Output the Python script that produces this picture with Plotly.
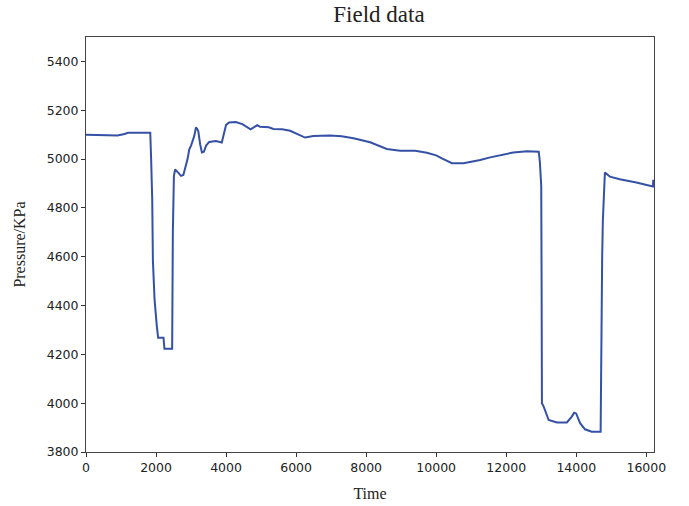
import plotly.graph_objects as go

# Field pressure record: time vs pressure (KPa)
time = [
    0, 300, 600, 900, 1100, 1200, 1500, 1835,
    1860, 1891, 1910, 1958, 2023, 2060, 2213, 2240, 2270, 2460,
    2480, 2510, 2545, 2600, 2715, 2780, 2857, 2900, 2950, 3000, 3092,
    3140, 3170, 3206, 3260, 3310, 3367, 3430, 3518, 3708, 3878, 3910,
    3944, 4000, 4085, 4275, 4464, 4600, 4700, 4790, 4890, 4971, 5220,
    5352, 5600, 5829, 6000, 6257, 6495, 6971, 7300, 7638, 8114, 8590,
    8971, 9400, 9734, 10000, 10163, 10449, 10780, 11257, 11543, 11829,
    12200, 12597, 12928, 12960, 12975, 12985, 12990, 13000, 13010, 13020,
    13070, 13212, 13448, 13731, 13873, 13939, 13996, 14110, 14251, 14440,
    14696, 14710, 14740, 14760, 14800, 14818, 14960, 15243, 15716, 16094,
    16190, 16200,
]
pressure = [
    5100, 5099, 5096, 5097, 5103, 5108, 5108, 5108,
    5000, 4835, 4586, 4424, 4315, 4268, 4268, 4223, 4223, 4223,
    4698, 4930, 4958, 4950, 4931, 4935, 4972, 5000, 5040, 5055, 5095,
    5129, 5125, 5115, 5060, 5027, 5030, 5055, 5070, 5074, 5068, 5090,
    5115, 5140, 5150, 5152, 5143, 5130, 5122, 5130, 5139, 5132, 5130,
    5123, 5122, 5116, 5105, 5088, 5094, 5096, 5093, 5085, 5069, 5041,
    5034, 5034, 5026, 5015, 5003, 4983, 4983, 4996, 5007, 5017,
    5027, 5032, 5030, 4990, 4920, 4905, 4930, 4890, 4500, 4000,
    3986, 3931, 3921, 3921, 3945, 3961, 3958, 3918, 3893, 3883,
    3883, 4200, 4600, 4750, 4880, 4945, 4928, 4917, 4904, 4890,
    4888, 4915,
]

x_ticks = [0, 2000, 4000, 6000, 8000, 10000, 12000, 14000, 16000]
x_tick_labels = [str(v) for v in x_ticks]
y_ticks = [3800, 4000, 4200, 4400, 4600, 4800, 5000, 5200, 5400]
y_tick_labels = [str(v) for v in y_ticks]

fig = go.Figure()
fig.add_trace(go.Scatter(
    x=time, y=pressure, mode="lines",
    line=dict(color="#3451a5", width=2),
    showlegend=False,
))

axis_common = dict(
    showgrid=False, zeroline=False, automargin=False,
    showline=True, mirror=True, linecolor="#444", linewidth=1,
    ticks="outside", ticklen=4, tickcolor="#333", tickwidth=1,
    tickfont=dict(family="DejaVu Sans", size=12.5, color="#222"),
)

fig.update_layout(
    width=689, height=506,
    margin=dict(l=86, r=35, t=37, b=54),
    paper_bgcolor="white", plot_bgcolor="white",
    title=dict(text="Field data", x=0.55, xanchor="center", y=0.972, yanchor="middle",
               font=dict(family="Liberation Serif", size=23, color="#222")),
    xaxis=dict(range=[0, 16220], tickvals=x_ticks, ticktext=x_tick_labels,
               title=dict(text="Time", standoff=13,
                          font=dict(family="Liberation Serif", size=16, color="#222")),
               **axis_common),
    yaxis=dict(range=[3800, 5500], tickvals=y_ticks, ticktext=y_tick_labels,
               title=dict(text="Pressure/KPa", standoff=17,
                          font=dict(family="Liberation Serif", size=16, color="#222")),
               **axis_common),
)

fig.write_html("out.html")
